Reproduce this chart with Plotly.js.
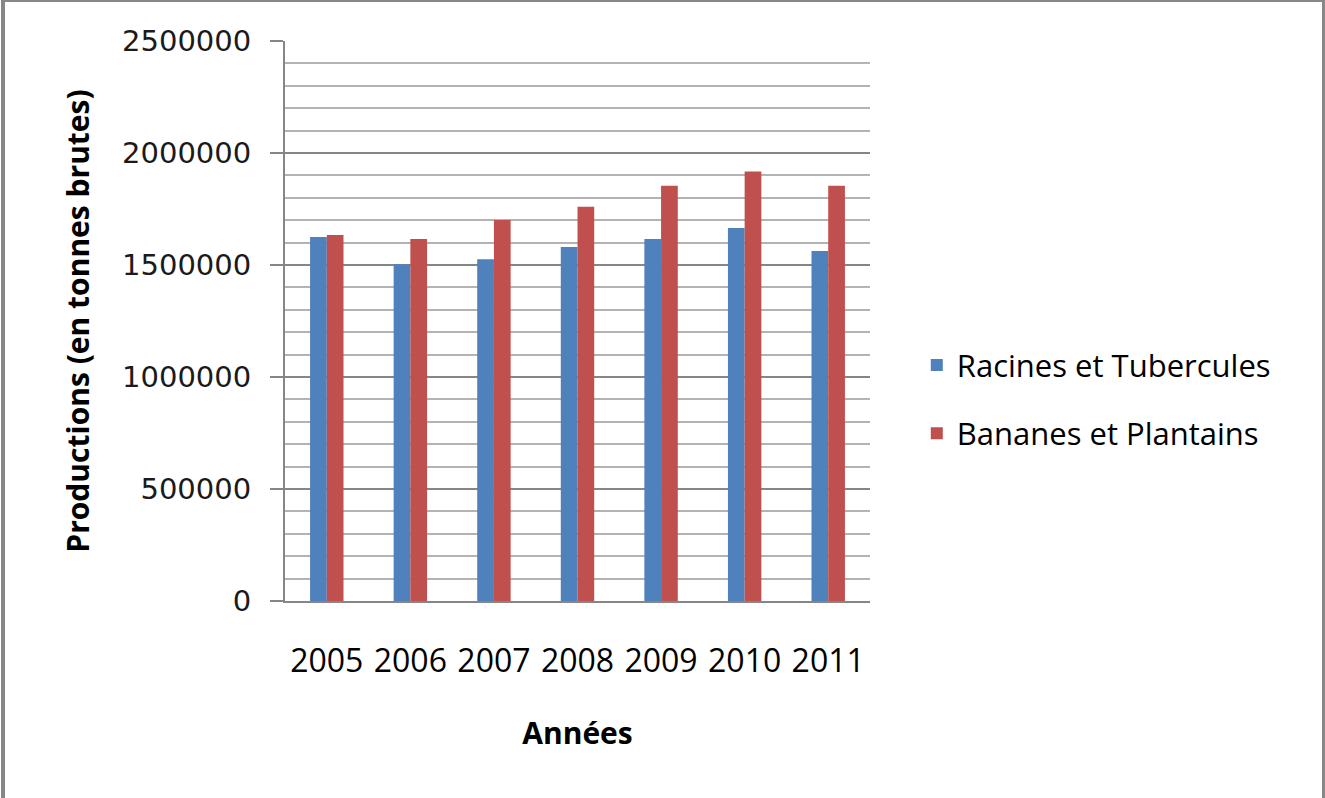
<!DOCTYPE html>
<html>
<head>
<meta charset="utf-8">
<script src="https://cdn.plot.ly/plotly-3.0.1.min.js"></script>
<style>
  html, body { margin: 0; padding: 0; background: #fff; }
  #wrap { position: relative; width: 1325px; height: 798px; }
  #chart { width: 1325px; height: 798px; }
  #frame { position: absolute; left: 1px; top: 0; width: 1324px; height: 798px; box-sizing: border-box;
           border-left: 4px solid #878787; border-top: 2px solid #878787; border-right: 3px solid #878787;
           pointer-events: none; }
</style>
</head>
<body>
<div id="wrap">
  <div id="chart"></div>
  <div id="frame"></div>
</div>
<script>
const years = ['2005', '2006', '2007', '2008', '2009', '2010', '2011'];
const racinesTubercules = [1625000, 1503000, 1526000, 1580000, 1616000, 1665000, 1562000];
const bananesPlantains = [1634000, 1616000, 1701000, 1760000, 1854000, 1917000, 1854000];
const seriesNames = ['Racines et Tubercules', 'Bananes et Plantains'];
const yTitle = 'Productions (en tonnes brutes)';
const xTitle = 'Années';

const traces = [
  { type: 'bar', name: seriesNames[0], x: years, y: racinesTubercules,
    marker: { color: '#4F81BD' }, legendgroup: 'a' },
  { type: 'bar', name: seriesNames[1], x: years, y: bananesPlantains,
    marker: { color: '#C0504D' }, legendgroup: 'b' }
];

const layout = {
  width: 1325, height: 798,
  paper_bgcolor: '#ffffff', plot_bgcolor: '#ffffff',
  margin: { l: 285, r: 455, t: 41, b: 197, pad: 0 },
  barmode: 'group', bargap: 0.6, bargroupgap: 0,
  font: { family: 'Open Sans, sans-serif', color: '#000000' },
  showlegend: true,
  legend: {
    x: 1.08, xanchor: 'left', y: 0.36, yanchor: 'middle',
    font: { family: 'Open Sans, sans-serif', size: 31, color: '#000000' },
    traceorder: 'grouped', tracegroupgap: 25,
    bgcolor: 'rgba(0,0,0,0)', borderwidth: 0
  },
  xaxis: {
    type: 'category',
    showline: true, linecolor: '#868686', linewidth: 2,
    ticks: '', showgrid: false, zeroline: false,
    tickfont: { family: 'Open Sans, sans-serif', size: 32, color: '#000000' },
    ticklabelstandoff: 31,
    title: { text: xTitle, standoff: 43,
             font: { family: 'Open Sans, sans-serif', size: 30, color: '#000000', weight: 'bold' } },
    automargin: false
  },
  yaxis: {
    range: [0, 2500000], dtick: 500000, tick0: 0, tickformat: 'd',
    showline: true, linecolor: '#868686', linewidth: 2,
    ticks: 'outside', ticklen: 13, tickwidth: 2, tickcolor: '#868686',
    showgrid: true, gridcolor: '#868686', gridwidth: 2,
    minor: { dtick: 100000, showgrid: true, gridcolor: '#b3b3b3', gridwidth: 2, ticks: '' },
    zeroline: false,
    tickfont: { family: 'DejaVu Sans, sans-serif', size: 29, color: '#1a1a1a' },
    ticklabelstandoff: 13,
    title: { text: yTitle, standoff: 24,
             font: { family: 'Open Sans, sans-serif', size: 30, color: '#000000', weight: 'bold' } },
    automargin: false
  }
};

Plotly.newPlot('chart', traces, layout, { displayModeBar: false, staticPlot: true });
</script>
</body>
</html>
